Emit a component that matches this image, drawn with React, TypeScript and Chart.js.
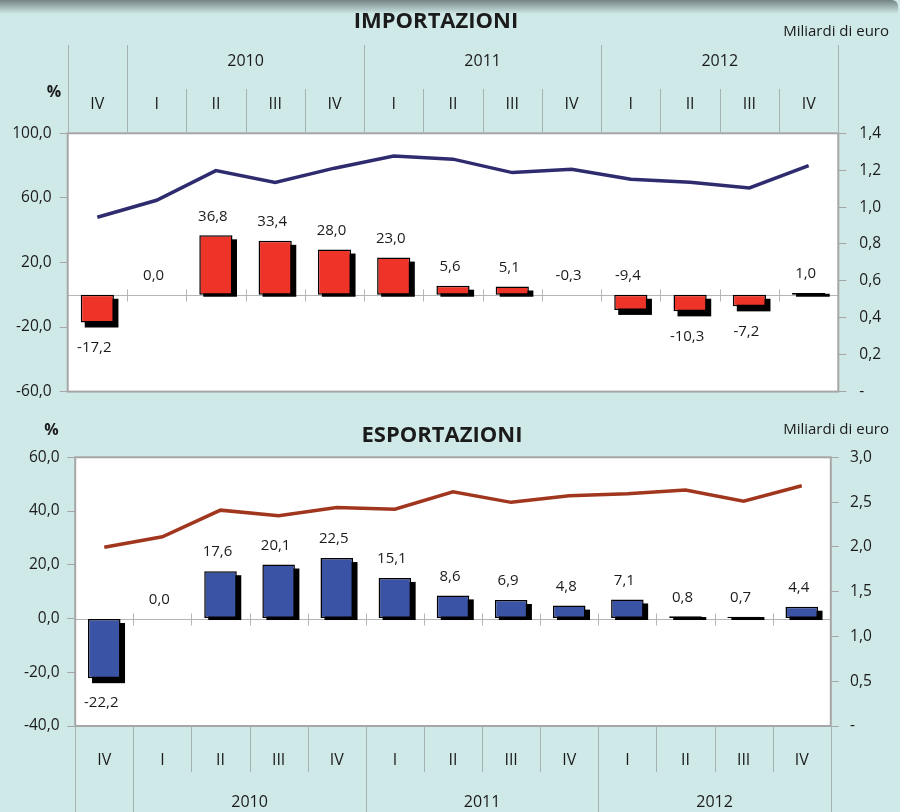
import React, { useEffect, useRef } from 'react';
import { Chart, registerables } from 'chart.js';

Chart.register(...registerables);

// ---------- data ----------
const quarters = ['IV', 'I', 'II', 'III', 'IV', 'I', 'II', 'III', 'IV', 'I', 'II', 'III', 'IV'];
const years = ['2010', '2011', '2012'];
const yearStartIdx = [1, 5, 9];

const importPct = [-17.2, 0.0, 36.8, 33.4, 28.0, 23.0, 5.6, 5.1, -0.3, -9.4, -10.3, -7.2, 1.0];
const importBn = [0.945, 1.037, 1.198, 1.133, 1.211, 1.277, 1.26, 1.187, 1.205, 1.151, 1.135, 1.104, 1.225];
const importLabelSide = ['below', 'above', 'above', 'above', 'above', 'above', 'above', 'above', 'above', 'above', 'below', 'below', 'above'];
const importPctTicks = [-60, -20, 20, 60, 100];
const importBnTicks = [0, 0.2, 0.4, 0.6, 0.8, 1.0, 1.2, 1.4];

const exportPct = [-22.2, 0.0, 17.6, 20.1, 22.5, 15.1, 8.6, 6.9, 4.8, 7.1, 0.8, 0.7, 4.4];
const exportBn = [1.995, 2.113, 2.41, 2.347, 2.44, 2.42, 2.615, 2.497, 2.57, 2.593, 2.634, 2.511, 2.682];
const exportLabelSide = ['below', 'above', 'above', 'above', 'above', 'above', 'above', 'above', 'above', 'above', 'above', 'above', 'above'];
const exportPctTicks = [-40, -20, 0, 20, 40, 60];
const exportBnTicks = [0, 0.5, 1.0, 1.5, 2.0, 2.5, 3.0];

// ---------- styles ----------
const FONT = "'Open Sans', 'Noto Sans', sans-serif";
const TEXT = '#1b1b1b';
const SEP = '#a3b3b3';
const AXIS_GRAY = '#a6a6a6';
const TEAL = '#cfe9e8';

const fmt = (v: number) => v.toFixed(1).replace('.', ',');

type Panel = {
  title: string;
  pct: number[];
  bn: number[];
  pctTicks: number[];
  bnTicks: number[];
  labelSide: string[];
  barColor: string;
  lineColor: string;
  side: number;
  padTop: number;
  padBottom: number;
  leftPad: number;
  rightPad: number;
  header: 'top' | 'bottom';
  titleX: number;
  titleY: number;
  unitY: number;
  pctX: number;
  pctY: number;
  yearLineEdge: number;
  quarterLineEdge: number;
  yearLabelY: number;
  quarterLabelY: number;
};

const importPanel: Panel = {
  title: 'IMPORTAZIONI',
  pct: importPct,
  bn: importBn,
  pctTicks: importPctTicks,
  bnTicks: importBnTicks,
  labelSide: importLabelSide,
  barColor: '#ee3328',
  lineColor: '#2f2b6f',
  side: 67.7,
  padTop: 133.3,
  padBottom: 14.4,
  leftPad: 8,
  rightPad: 13,
  header: 'top',
  titleX: 436,
  titleY: 22,
  unitY: 32,
  pctX: 54,
  pctY: 92,
  yearLineEdge: 45,
  quarterLineEdge: 89,
  yearLabelY: 61,
  quarterLabelY: 104,
};

const exportPanel: Panel = {
  title: 'ESPORTAZIONI',
  pct: exportPct,
  bn: exportBn,
  pctTicks: exportPctTicks,
  bnTicks: exportBnTicks,
  labelSide: exportLabelSide,
  barColor: '#3a53a4',
  lineColor: '#a1361f',
  side: 75.2,
  padTop: 51.3,
  padBottom: 86,
  leftPad: 7.7,
  rightPad: 11.3,
  header: 'bottom',
  titleX: 442,
  titleY: 30,
  unitY: 24,
  pctX: 51.5,
  pctY: 24.5,
  yearLineEdge: 406,
  quarterLineEdge: 366,
  yearLabelY: 396,
  quarterLabelY: 354,
};

function barMeta(chart: any) {
  return chart.getSortedVisibleDatasetMetas().find((m: any) => m.type === 'bar');
}

function makePlugin(p: Panel) {
  return {
    id: 'panelDecor',
    beforeDraw(chart: any) {
      const { ctx, chartArea: a } = chart;
      ctx.save();
      ctx.fillStyle = '#ffffff';
      ctx.fillRect(a.left, a.top, a.right - a.left, a.bottom - a.top);
      ctx.restore();
    },
    beforeDatasetsDraw(chart: any) {
      const { ctx, chartArea: a } = chart;
      const ys = chart.scales.y;
      const xs = chart.scales.x;
      const y0 = Math.round(ys.getPixelForValue(0)) + 0.5;
      ctx.save();
      // zero line
      ctx.strokeStyle = '#b5b5b5';
      ctx.lineWidth = 1;
      ctx.beginPath();
      ctx.moveTo(a.left, y0);
      ctx.lineTo(a.right, y0);
      for (let i = 1; i < quarters.length; i++) {
        const x = Math.round((xs.getPixelForValue(i - 1) + xs.getPixelForValue(i)) / 2) + 0.5;
        ctx.moveTo(x, y0 - 6);
        ctx.lineTo(x, y0 + 6);
      }
      ctx.stroke();
      // bar shadows
      const meta = barMeta(chart);
      ctx.fillStyle = '#000000';
      meta.data.forEach((el: any, i: number) => {
        const v = p.pct[i];
        if (Math.abs(v) < 0.5) return;
        const { x, y, base, width } = el.getProps(['x', 'y', 'base', 'width'], true);
        const left = x - width / 2;
        const top = Math.min(y, base);
        const bottom = Math.max(y, base);
        const sTop = v >= 0 ? Math.min(top + 4, bottom - 1) : top + 4;
        const sBottom = bottom + (v >= 0 ? 2 : 5);
        ctx.fillRect(left + 4, sTop, width + 0.5, sBottom - sTop);
      });
      ctx.restore();
    },
    afterDatasetsDraw(chart: any) {
      const { ctx } = chart;
      const meta = barMeta(chart);
      ctx.save();
      ctx.font = `15px ${FONT}`;
      ctx.fillStyle = TEXT;
      ctx.textAlign = 'center';
      ctx.textBaseline = 'middle';
      meta.data.forEach((el: any, i: number) => {
        const { x, y, base } = el.getProps(['x', 'y', 'base'], true);
        const top = Math.min(y, base);
        const bottom = Math.max(y, base);
        const ty = p.labelSide[i] === 'above' ? top - 19 : bottom + 25;
        ctx.fillText(fmt(p.pct[i]), x - 3, ty);
      });
      ctx.restore();
    },
    afterDraw(chart: any) {
      const { ctx, chartArea: a } = chart;
      const xs = chart.scales.x;
      const n = quarters.length;
      ctx.save();
      // plot border
      ctx.strokeStyle = AXIS_GRAY;
      ctx.lineWidth = 2;
      ctx.strokeRect(a.left, a.top, a.right - a.left, a.bottom - a.top);

      // header / footer category table
      const bound = (i: number) =>
        i === 0 ? a.left : i === n ? a.right : (xs.getPixelForValue(i - 1) + xs.getPixelForValue(i)) / 2;
      const yearBounds = new Set([0, ...yearStartIdx, n]);
      ctx.strokeStyle = SEP;
      ctx.lineWidth = 1;
      ctx.beginPath();
      for (let i = 0; i <= n; i++) {
        const x = Math.round(bound(i)) + 0.5;
        const isYear = yearBounds.has(i);
        if (p.header === 'top') {
          ctx.moveTo(x, isYear ? p.yearLineEdge : p.quarterLineEdge);
          ctx.lineTo(x, a.top);
        } else {
          ctx.moveTo(x, a.bottom);
          ctx.lineTo(x, isYear ? p.yearLineEdge : p.quarterLineEdge);
        }
      }
      ctx.stroke();

      ctx.fillStyle = TEXT;
      ctx.textAlign = 'center';
      ctx.textBaseline = 'middle';
      ctx.font = `16px ${FONT}`;
      quarters.forEach((q, i) => {
        ctx.fillText(q, xs.getPixelForValue(i), p.quarterLabelY);
      });
      years.forEach((yr, k) => {
        const s = yearStartIdx[k];
        const e = k + 1 < yearStartIdx.length ? yearStartIdx[k + 1] : n;
        ctx.fillText(yr, (bound(s) + bound(e)) / 2, p.yearLabelY);
      });

      // titles
      ctx.font = `bold 22px ${FONT}`;
      ctx.fillText(p.title, p.titleX, p.titleY);
      ctx.font = `bold 16px ${FONT}`;
      ctx.fillText('%', p.pctX, p.pctY);
      ctx.font = `15px ${FONT}`;
      ctx.textAlign = 'right';
      ctx.fillText('Miliardi di euro', 889, p.unitY);
      ctx.restore();
    },
  };
}

function PanelChart({ p, top }: { p: Panel; top: number }) {
  const ref = useRef<HTMLCanvasElement>(null);
  useEffect(() => {
    const fitSide = (s: any) => {
      s.width = p.side;
      s.paddingTop = 0;
      s.paddingBottom = 0;
    };
    const tiny = (i: number) => Math.abs(p.pct[i]) < 0.5;
    const chart = new Chart(ref.current as HTMLCanvasElement, {
      type: 'bar',
      data: {
        labels: quarters,
        datasets: [
          {
            type: 'line',
            data: p.bn,
            yAxisID: 'y1',
            borderColor: p.lineColor,
            borderWidth: 3.5,
            pointRadius: 0,
            tension: 0,
            order: 0,
          } as any,
          {
            type: 'bar',
            data: p.pct,
            yAxisID: 'y',
            backgroundColor: (c: any) => (tiny(c.dataIndex) ? 'rgba(0,0,0,0)' : p.barColor),
            borderColor: '#000000',
            borderWidth: (c: any) => (tiny(c.dataIndex) ? 0 : 1.5),
            borderSkipped: false,
            barPercentage: 0.56,
            categoryPercentage: 1,
            order: 1,
          } as any,
        ],
      },
      options: {
        responsive: false,
        animation: false,
        devicePixelRatio: 1,
        events: [],
        layout: { padding: { top: p.padTop, bottom: p.padBottom, left: 0, right: 0 } },
        plugins: {
          legend: { display: false },
          tooltip: { enabled: false },
          title: { display: false },
        },
        scales: {
          x: { display: false, offset: true },
          y: {
            position: 'left',
            min: p.pctTicks[0],
            max: p.pctTicks[p.pctTicks.length - 1],
            afterBuildTicks: (s: any) => {
              s.ticks = p.pctTicks.map((v) => ({ value: v }));
            },
            afterFit: fitSide,
            grid: { drawOnChartArea: false, drawTicks: true, tickLength: 8, color: AXIS_GRAY, lineWidth: 1 },
            border: { display: false },
            ticks: {
              padding: p.leftPad,
              color: TEXT,
              font: { family: FONT, size: 15.5 },
              callback: (v: any) => fmt(Number(v)),
            },
          },
          y1: {
            position: 'right',
            min: p.bnTicks[0],
            max: p.bnTicks[p.bnTicks.length - 1],
            afterBuildTicks: (s: any) => {
              s.ticks = p.bnTicks.map((v) => ({ value: v }));
            },
            afterFit: fitSide,
            grid: { drawOnChartArea: false, drawTicks: true, tickLength: 8, color: AXIS_GRAY, lineWidth: 1 },
            border: { display: false },
            ticks: {
              padding: p.rightPad,
              color: TEXT,
              font: { family: FONT, size: 15.5 },
              callback: (v: any) => (Number(v) === 0 ? '-' : fmt(Number(v))),
            },
          },
        },
      } as any,
      plugins: [makePlugin(p)],
    });
    return () => chart.destroy();
  }, [p]);
  return (
    <canvas
      ref={ref}
      width={906}
      height={406}
      style={{ position: 'absolute', left: 0, top, width: 906, height: 406, display: 'block' }}
    />
  );
}

export default function App() {
  return (
    <div style={{ position: 'relative', width: 906, height: 812, background: '#ffffff', overflow: 'hidden' }}>
      <style>{'body{margin:0}'}</style>
      <div style={{ position: 'absolute', left: 0, top: 0, width: 900, height: 812, background: TEAL }} />
      <div
        style={{
          position: 'absolute',
          left: 0,
          top: 0,
          width: 898,
          height: 14,
          borderTopRightRadius: 6,
          background: 'linear-gradient(to bottom, rgba(105,120,120,0.9), rgba(207,233,232,0))',
        }}
      />
      <PanelChart p={importPanel} top={0} />
      <PanelChart p={exportPanel} top={406} />
    </div>
  );
}
